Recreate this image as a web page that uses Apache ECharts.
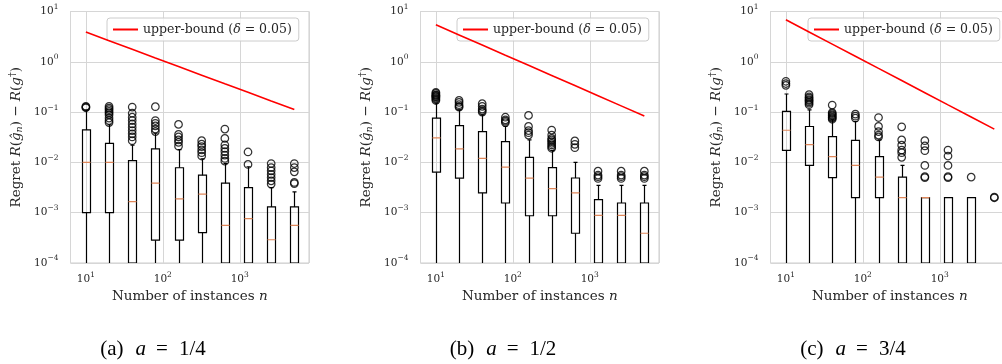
<!DOCTYPE html>
<html>
<head>
<meta charset="utf-8">
<script src="https://cdn.jsdelivr.net/npm/echarts@6/dist/echarts.min.js"></script>
<style>
  html, body { margin: 0; padding: 0; background: #fff; }
  #main { width: 1002px; height: 364px; }
</style>
</head>
<body>
<div id="main"></div>
<script>
// number of instances on the x axis
var nValues = [10, 20, 40, 80, 160, 320, 640, 1280, 2560, 5120];

// box stats per n: [lower whisker, q1, median, q3, upper whisker]  (0 = below the axis)
var boxesA = [
  [0, 0.001, 0.01, 0.0443, 0.11],
  [0, 0.001, 0.01, 0.024, 0.056],
  [0, 0, 0.00166, 0.0108, 0.022],
  [0, 0.000284, 0.00386, 0.0185, 0.038],
  [0, 0.000284, 0.00188, 0.00782, 0.018],
  [0, 0.0004, 0.00233, 0.00558, 0.0118],
  [0, 0, 0.000558, 0.00386, 0.0095],
  [0, 0, 0.000759, 0.00316, 0.0082],
  [0, 0, 0.00029, 0.0013, 0.00316],
  [0, 0, 0.000558, 0.0013, 0.00259]
];
var boxesB = [
  [0, 0.0064, 0.0307, 0.076, 0.151],
  [0, 0.00486, 0.0185, 0.054, 0.111],
  [0, 0.00247, 0.012, 0.041, 0.088],
  [0, 0.00156, 0.00807, 0.0259, 0.052],
  [0, 0.00087, 0.00486, 0.0126, 0.028],
  [0, 0.00087, 0.003, 0.0079, 0.0171],
  [0, 0.00039, 0.00247, 0.0049, 0.01],
  [0, 0, 0.000885, 0.00182, 0.0035],
  [0, 0, 0.000885, 0.00156, 0.0035],
  [0, 0, 0.00039, 0.00156, 0.0035]
];
var boxesC = [
  [0, 0.0174, 0.0436, 0.103, 0.229],
  [0, 0.0087, 0.0226, 0.0517, 0.111],
  [0, 0.005, 0.013, 0.0326, 0.07],
  [0, 0.002, 0.0087, 0.0275, 0.065],
  [0, 0.002, 0.0051, 0.013, 0.028],
  [0, 0, 0.002, 0.0051, 0.0087],
  [0, 0, 0.002, 0.002, 0.002],
  [0, 0, 0, 0.002, 0.002],
  [0, 0, 0, 0.002, 0.002],
  [0, 0, 0, 0, 0]
];

// outliers per n
var outliersA = [
  [0.122, 0.126, 0.13],
  [0.062, 0.068, 0.076, 0.088, 0.096, 0.103, 0.112, 0.12, 0.13],
  [0.027, 0.032, 0.037, 0.043, 0.05, 0.058, 0.068, 0.079, 0.095, 0.126],
  [0.041, 0.046, 0.053, 0.06, 0.068, 0.128],
  [0.021, 0.025, 0.028, 0.032, 0.036, 0.057],
  [0.0134, 0.0156, 0.0177, 0.0206, 0.023, 0.027],
  [0.0106, 0.012, 0.014, 0.0164, 0.019, 0.0222, 0.03, 0.046],
  [0.0091, 0.0161],
  [0.0037, 0.0043, 0.005, 0.0058, 0.0068, 0.0079, 0.0095],
  [0.0038, 0.004, 0.0065, 0.0079, 0.0095]
];
var outliersB = [
  [0.17, 0.18, 0.19, 0.2, 0.206, 0.215, 0.22, 0.235, 0.247],
  [0.125, 0.13, 0.14, 0.156, 0.171],
  [0.1, 0.107, 0.115, 0.13, 0.147],
  [0.062, 0.066, 0.07, 0.079],
  [0.035, 0.039, 0.043, 0.052, 0.086],
  [0.0191, 0.0205, 0.0222, 0.024, 0.026, 0.028, 0.03, 0.035, 0.044],
  [0.0196, 0.0229, 0.0267],
  [0.0048, 0.0052, 0.0056, 0.0067],
  [0.0048, 0.0052, 0.0056, 0.0067],
  [0.0048, 0.0052, 0.0056, 0.0067]
];
var outliersC = [
  [0.34, 0.37, 0.41],
  [0.14, 0.15, 0.16, 0.17, 0.177, 0.19, 0.2, 0.222],
  [0.072, 0.076, 0.079, 0.084, 0.088, 0.093, 0.098, 0.138],
  [0.076, 0.083, 0.091],
  [0.032, 0.035, 0.041, 0.052, 0.078],
  [0.0126, 0.0156, 0.0176, 0.022, 0.028, 0.051],
  [0.005, 0.0052, 0.0087, 0.0171, 0.0212, 0.027],
  [0.005, 0.0052, 0.0087, 0.0134, 0.0176],
  [0.0051],
  [0.00198, 0.00204]
];

// upper bound (delta = 0.05) per n
var boundA = [3.9, 2.63, 1.77, 1.19, 0.805, 0.543, 0.366, 0.247, 0.166, 0.112];
var boundB = [5.44, 3.42, 2.15, 1.35, 0.851, 0.535, 0.337, 0.212, 0.133, 0.084];
var boundC = [6.84, 3.92, 2.25, 1.29, 0.739, 0.424, 0.243, 0.139, 0.08, 0.0459];

var panelTags = ['(a)', '(b)', '(c)'];
var aValues = ['1/4', '1/2', '3/4'];
var boundName = 'upper-bound (δ = 0.05)';

var yMin = 1e-4, yMax = 10;
var xMin = Math.pow(10, 0.8), xMax = Math.pow(10, 3.9);
var panelLeft = [70.5, 420.5, 770.5];
var captionX = [153, 503, 853];
var serif = '"DejaVu Serif", serif';
var capSerif = '"Liberation Serif", serif';

function powLabel(v) {
  var l = Math.log(v) / Math.LN10;
  var p = Math.round(l);
  if (Math.abs(l - p) > 1e-6) return '';
  return '{b|10}{s|' + String(p).replace('-', '\u2212') + '}';
}

var labelRich = {
  b: { fontFamily: serif, fontSize: 10.5, color: '#262626', lineHeight: 17 },
  s: { fontFamily: serif, fontSize: 7.5, color: '#262626', lineHeight: 8, verticalAlign: 'top' }
};

function renderBox(params, api) {
  var n = api.value(0);
  var ys = [];
  for (var d = 1; d <= 5; d++) {
    var v = api.value(d);
    ys.push(api.coord([n, v > 0 ? v : yMin])[1]);
  }
  var x = Math.round(api.coord([n, 1])[0]) + 0.5;
  var hw = 4, cw = 2;
  var ln = { stroke: '#000', lineWidth: 1.2 };
  var kids = [];
  if (ys[0] - ys[1] > 0.5) {
    kids.push({ type: 'line', shape: { x1: x, y1: ys[1], x2: x, y2: ys[0] }, style: ln });
  }
  if (ys[3] - ys[4] > 0.5) {
    kids.push({ type: 'line', shape: { x1: x, y1: ys[3], x2: x, y2: ys[4] }, style: ln });
    kids.push({ type: 'line', shape: { x1: x - cw, y1: ys[4], x2: x + cw, y2: ys[4] }, style: ln });
  }
  if (ys[1] - ys[3] > 0.5) {
    kids.push({ type: 'rect', shape: { x: x - hw, y: ys[3], width: hw * 2, height: ys[1] - ys[3] },
      style: { fill: 'none', stroke: '#000', lineWidth: 1.2 } });
  }
  if (api.value(3) > 0) {
    kids.push({ type: 'line', shape: { x1: x - hw, y1: ys[2], x2: x + hw, y2: ys[2] },
      style: { stroke: '#e0875a', lineWidth: 1.2 } });
  }
  return { type: 'group', children: kids };
}

var panels = [
  { boxes: boxesA, outliers: outliersA, bound: boundA },
  { boxes: boxesB, outliers: outliersB, bound: boundB },
  { boxes: boxesC, outliers: outliersC, bound: boundC }
];

var option = {
  animation: false,
  backgroundColor: '#fff',
  grid: [], xAxis: [], yAxis: [], legend: [], series: [], graphic: []
};

panels.forEach(function (p, i) {
  option.grid.push({
    left: panelLeft[i], top: 11.5, width: 238.5, height: 251.5,
    show: true, borderColor: '#cccccc', borderWidth: 1,
    containLabel: false, outerBoundsMode: 'none'
  });
  option.xAxis.push({
    type: 'log', logBase: 10, gridIndex: i, min: xMin, max: xMax,
    axisLine: { show: false }, axisTick: { show: false },
    splitLine: { show: true, lineStyle: { color: '#d6d6d6', width: 1 } },
    axisLabel: { formatter: powLabel, rich: labelRich, margin: 8, showMinLabel: true, showMaxLabel: true },
    name: 'Number of instances {i|n}', nameLocation: 'middle', nameGap: 26,
    nameTextStyle: {
      fontFamily: serif, fontSize: 13.5, color: '#262626',
      rich: { i: { fontFamily: serif, fontSize: 13.5, fontStyle: 'italic', color: '#262626' } }
    }
  });
  option.yAxis.push({
    type: 'log', logBase: 10, gridIndex: i, min: yMin, max: yMax,
    axisLine: { show: false }, axisTick: { show: false },
    splitLine: { show: true, lineStyle: { color: '#d6d6d6', width: 1 } },
    axisLabel: { formatter: powLabel, rich: labelRich, margin: 12 },
    name: 'Regret {i|R}({i|\u011d}{sub|n}) \u2212 {i|R}({i|g}{sup|\u2020})',
    nameLocation: 'middle', nameGap: 46,
    nameTextStyle: {
      fontFamily: serif, fontSize: 13.5, color: '#262626',
      rich: {
        i: { fontFamily: serif, fontSize: 13.5, fontStyle: 'italic', color: '#262626', lineHeight: 17 },
        sub: { fontFamily: serif, fontSize: 9.5, fontStyle: 'italic', color: '#262626', lineHeight: 9, verticalAlign: 'bottom' },
        sup: { fontFamily: serif, fontSize: 9.5, color: '#262626', lineHeight: 9, verticalAlign: 'top' }
      }
    }
  });
  option.legend.push({
    left: [107, 457, 808][i], top: 18,
    data: [boundName],
    icon: 'rect', itemWidth: 25, itemHeight: 2, itemGap: 10,
    padding: [5, 7, 5, 6],
    backgroundColor: 'rgba(255,255,255,0.8)', borderColor: '#cccccc', borderWidth: 1, borderRadius: 3,
    formatter: function () { return 'upper-bound ({i|\u03b4} = 0.05)'; },
    textStyle: {
      fontFamily: serif, fontSize: 12.5, color: '#262626',
      rich: { i: { fontFamily: serif, fontSize: 12.5, fontStyle: 'italic', color: '#262626' } }
    }
  });

  var boxData = p.boxes.map(function (b, k) { return [nValues[k]].concat(b); });
  var outData = [];
  p.outliers.forEach(function (list, k) {
    list.forEach(function (v) { outData.push([nValues[k], v]); });
  });
  var lineData = p.bound.map(function (v, k) { return [nValues[k], v]; });

  option.series.push({
    type: 'custom', xAxisIndex: i, yAxisIndex: i, renderItem: renderBox,
    encode: { x: 0, y: [1, 2, 3, 4, 5] }, data: boxData, clip: true, silent: true, z: 2
  });
  option.series.push({
    type: 'scatter', xAxisIndex: i, yAxisIndex: i, data: outData, symbol: 'circle', symbolSize: 7.5,
    itemStyle: { color: 'rgba(0,0,0,0)', borderColor: '#000', borderWidth: 1.25 }, silent: true, z: 3
  });
  option.series.push({
    type: 'line', name: boundName, xAxisIndex: i, yAxisIndex: i, data: lineData,
    symbol: 'none', lineStyle: { color: '#ff0000', width: 1.6 }, itemStyle: { color: '#ff0000' },
    silent: true, z: 4
  });

  option.graphic.push({
    type: 'text', x: captionX[i], y: 349,
    style: {
      text: '{t|' + panelTags[i] + '}{i|a}{e|=}{f|' + aValues[i] + '}',
      align: 'center', verticalAlign: 'middle',
      rich: {
        t: { fontFamily: capSerif, fontSize: 21, fill: '#000', padding: [0, 12, 0, 0] },
        i: { fontFamily: capSerif, fontSize: 21, fontStyle: 'italic', fill: '#000', padding: [0, 10, 0, 0] },
        e: { fontFamily: capSerif, fontSize: 21, fill: '#000', padding: [0, 11, 0, 0] },
        f: { fontFamily: capSerif, fontSize: 21, fill: '#000' }
      }
    }
  });
});

var chart = echarts.init(document.getElementById('main'));
chart.setOption(option);
</script>
</body>
</html>
